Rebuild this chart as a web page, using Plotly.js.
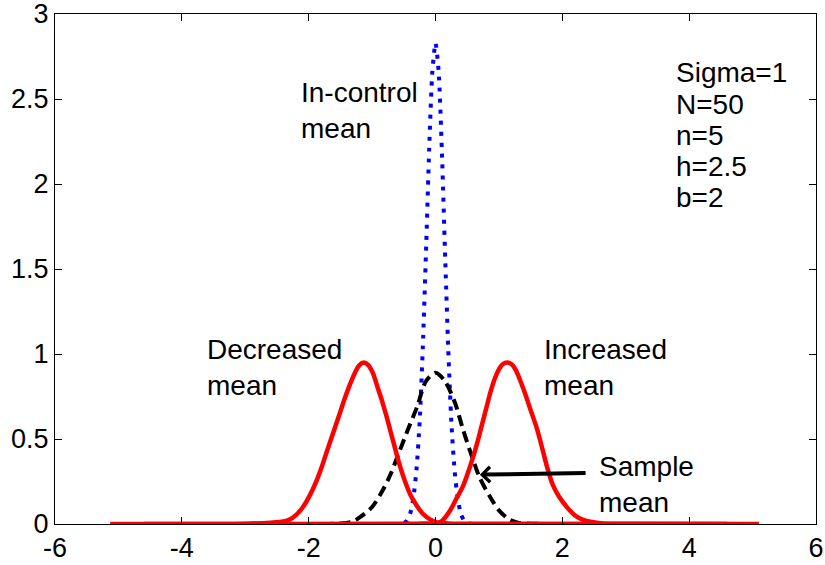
<!DOCTYPE html>
<html>
<head>
<meta charset="utf-8">
<script src="https://cdn.plot.ly/plotly-3.0.1.min.js"></script>
<style>html,body{margin:0;padding:0;background:#fff;}#chart{width:825px;height:565px;}</style>
</head>
<body>
<div id="chart"></div>
<script>
// ---- data ----
var inControlX = [-5, -0.6, -0.5, -0.45, -0.4, -0.35, -0.3, -0.25, -0.2, -0.15, -0.1, -0.05, 0, 0.05, 0.1, 0.15, 0.2, 0.25, 0.3, 0.35, 0.4, 0.45, 0.5, 0.6, 5];
var inControlY = [0, 0, 0.005, 0.02, 0.06, 0.15, 0.32, 0.6, 1.04, 1.6, 2.2, 2.66, 2.83, 2.66, 2.2, 1.6, 1.04, 0.6, 0.32, 0.15, 0.06, 0.02, 0.005, 0, 0];

var sampleX = [-5, -1.5, -1.3, -1.19, -1.0, -0.83, -0.7, -0.56, -0.43, -0.29, -0.15, 0, 0.15, 0.31, 0.43, 0.54, 0.7, 0.86, 1.0, 1.17, 1.3, 1.5, 5];
var sampleY = [0, 0.003, 0.015, 0.04, 0.10, 0.2, 0.3, 0.435, 0.56, 0.69, 0.84, 0.89, 0.84, 0.71, 0.56, 0.435, 0.27, 0.16, 0.08, 0.025, 0.008, 0.002, 0];

var decreasedX = [-5.13, -3.0, -2.6, -2.4, -2.3, -2.2, -2.09, -1.98, -1.87, -1.79, -1.71, -1.61, -1.51, -1.43, -1.35, -1.27, -1.2, -1.13, -1.06, -0.99, -0.91, -0.84, -0.77, -0.67, -0.56, -0.48, -0.40, -0.30, -0.2, -0.1, 0.02, 0.2, 0.5, 4.6];
var decreasedY = [0, 0.002, 0.008, 0.015, 0.026, 0.052, 0.10, 0.17, 0.26, 0.34, 0.43, 0.54, 0.65, 0.74, 0.82, 0.89, 0.935, 0.95, 0.935, 0.89, 0.8, 0.72, 0.63, 0.49, 0.34, 0.25, 0.175, 0.11, 0.06, 0.03, 0.01, 0.003, 0.001, 0];

var increasedX = [-4.6, -0.5, -0.2, 0.07, 0.23, 0.33, 0.43, 0.51, 0.59, 0.66, 0.73, 0.8, 0.87, 0.94, 1.0, 1.06, 1.13, 1.2, 1.26, 1.33, 1.41, 1.5, 1.6, 1.68, 1.76, 1.85, 1.95, 2.07, 2.2, 2.33, 2.6, 3.0, 5.1];
var increasedY = [0, 0.001, 0.003, 0.01, 0.08, 0.15, 0.22, 0.3, 0.39, 0.48, 0.58, 0.68, 0.78, 0.86, 0.91, 0.94, 0.95, 0.94, 0.91, 0.85, 0.77, 0.67, 0.56, 0.45, 0.335, 0.23, 0.16, 0.10, 0.05, 0.024, 0.005, 0.002, 0];

var xTickVals = [-6, -4, -2, 0, 2, 4, 6];
var xTickText = ['-6', '-4', '-2', '0', '2', '4', '6'];
var yTickVals = [0, 0.5, 1, 1.5, 2, 2.5, 3];
var yTickText = ['0', '0.5', '1', '1.5', '2', '2.5', '3'];

var labelInControl = 'In-control<br>mean';
var labelDecreased = 'Decreased<br>mean';
var labelIncreased = 'Increased<br>mean';
var labelSample = 'Sample<br>mean';
var paramLines = ['Sigma=1', 'N=50', 'n=5', 'h=2.5', 'b=2'];

// ---- chart ----
var FONT = 'Liberation Sans, Arial, Helvetica, sans-serif';
var FS = 27;   // tick labels
var FA = 28;   // annotation text

var traces = [
  {x: inControlX, y: inControlY, mode: 'lines', line: {color: '#0000ff', width: 4, dash: '4px,7px', shape: 'spline', smoothing: 0.6}, hoverinfo: 'skip'},
  {x: sampleX, y: sampleY, mode: 'lines', line: {color: '#000000', width: 4, dash: '11px,6px', shape: 'spline', smoothing: 0.8}, hoverinfo: 'skip'},
  {x: decreasedX, y: decreasedY, mode: 'lines', line: {color: '#ff0000', width: 4.5, shape: 'spline', smoothing: 1}, hoverinfo: 'skip'},
  {x: increasedX, y: increasedY, mode: 'lines', line: {color: '#ff0000', width: 4.5, shape: 'spline', smoothing: 1}, hoverinfo: 'skip'}
];

function txt(text, x, y) {
  return {text: text, x: x, y: y, xref: 'x', yref: 'y', showarrow: false,
          xanchor: 'left', yanchor: 'middle', align: 'left',
          font: {family: FONT, size: FA, color: '#000'}};
}

var annotations = [
  txt(labelInControl, -2.16, 2.43),
  txt(labelDecreased, -3.63, 0.92),
  txt(labelIncreased, 1.68, 0.92),
  txt(labelSample, 2.55, 0.23),
  {text: '', x: 0.70, y: 0.29, ax: 2.39, ay: 0.30, xref: 'x', yref: 'y', axref: 'x', ayref: 'y',
   showarrow: true, arrowhead: 4, arrowsize: 0.75, arrowwidth: 4, arrowcolor: '#000', standoff: 0}
];
var paramTop = 2.653, paramStep = 0.1825;
paramLines.forEach(function (t, i) { annotations.push(txt(t, 3.76, paramTop - i * paramStep)); });

var axisCommon = {
  showline: true, linecolor: '#000', linewidth: 1, mirror: 'ticks',
  ticks: 'inside', ticklen: 7, tickwidth: 1, tickcolor: '#000',
  showgrid: false, zeroline: false, tickmode: 'array', ticklabeloverflow: 'allow',
  tickfont: {family: FONT, size: FS, color: '#000'}
};

var layout = {
  width: 825, height: 565,
  margin: {l: 55, r: 9, t: 14, b: 41},
  paper_bgcolor: '#fff', plot_bgcolor: '#fff',
  showlegend: false,
  xaxis: Object.assign({}, axisCommon, {range: [-6, 6], tickvals: xTickVals, ticktext: xTickText}),
  yaxis: Object.assign({}, axisCommon, {range: [0, 3], tickvals: yTickVals, ticktext: yTickText}),
  annotations: annotations
};

Plotly.newPlot('chart', traces, layout, {staticPlot: true, displayModeBar: false});
</script>
</body>
</html>
